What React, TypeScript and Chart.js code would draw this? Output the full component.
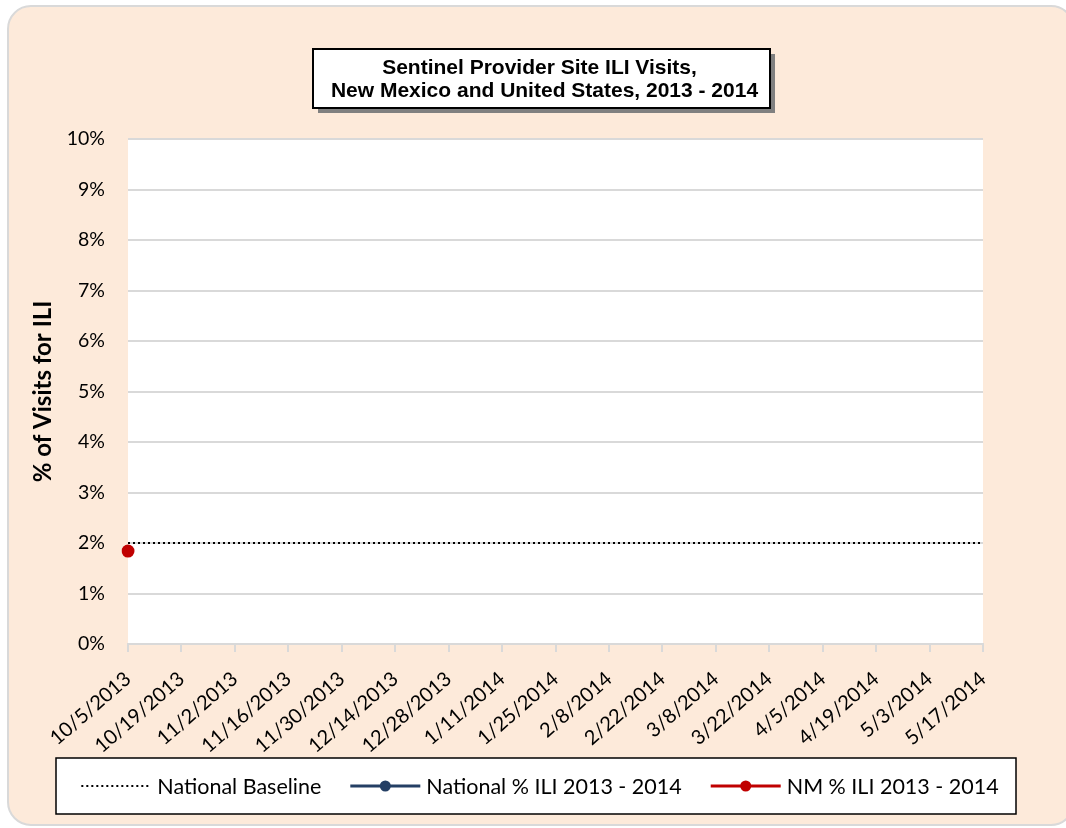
import { useEffect, useRef } from 'react';
import { Chart, registerables } from 'chart.js';

Chart.register(...registerables);

const weekLabels = [
  '10/5/2013', '10/12/2013', '10/19/2013', '10/26/2013', '11/2/2013', '11/9/2013',
  '11/16/2013', '11/23/2013', '11/30/2013', '12/7/2013', '12/14/2013', '12/21/2013',
  '12/28/2013', '1/4/2014', '1/11/2014', '1/18/2014', '1/25/2014', '2/1/2014',
  '2/8/2014', '2/15/2014', '2/22/2014', '3/1/2014', '3/8/2014', '3/15/2014',
  '3/22/2014', '3/29/2014', '4/5/2014', '4/12/2014', '4/19/2014', '4/26/2014',
  '5/3/2014', '5/10/2014', '5/17/2014',
];

const baselineValues = [
  2.0, 2.0, 2.0, 2.0, 2.0, 2.0, 2.0, 2.0, 2.0, 2.0, 2.0,
  2.0, 2.0, 2.0, 2.0, 2.0, 2.0, 2.0, 2.0, 2.0, 2.0, 2.0,
  2.0, 2.0, 2.0, 2.0, 2.0, 2.0, 2.0, 2.0, 2.0, 2.0, 2.0,
];

const nationalValues: (number | null)[] = [];

const nmValues: (number | null)[] = [1.84];

const titleLines = ['Sentinel Provider Site ILI Visits,', 'New Mexico and United States, 2013 - 2014'];
const yAxisTitle = '% of Visits for ILI';
const seriesNames = ['National Baseline', 'National % ILI 2013 - 2014', 'NM % ILI 2013 - 2014'];

const PEACH = '#FDEADA';
const NAVY = '#243F64';
const RED = '#C00000';
const GRID = '#D9D9D9';
const FONT = 'Lato, "Open Sans", sans-serif';

const areaBgPlugin = {
  id: 'areaBg',
  beforeDraw(chart: any) {
    const { ctx, chartArea } = chart;
    ctx.save();
    ctx.fillStyle = '#ffffff';
    ctx.fillRect(chartArea.left, chartArea.top, chartArea.right - chartArea.left, chartArea.bottom - chartArea.top);
    ctx.restore();
  },
};

const titleBoxPlugin = {
  id: 'titleBox',
  afterDraw(chart: any) {
    const { ctx } = chart;
    const x = 313, y = 49, w = 457, h = 59;
    ctx.save();
    ctx.fillStyle = '#808080';
    ctx.fillRect(x + 5, y + 5, w, h);
    ctx.fillStyle = '#ffffff';
    ctx.fillRect(x, y, w, h);
    ctx.strokeStyle = '#000';
    ctx.lineWidth = 2;
    ctx.strokeRect(x, y, w, h);
    ctx.fillStyle = '#000';
    ctx.font = 'bold 21px "Liberation Sans", Arial, sans-serif';
    ctx.textAlign = 'center';
    ctx.textBaseline = 'middle';
    ctx.fillText(titleLines[0], x + w / 2 - 2, 68);
    ctx.fillText(titleLines[1], x + w / 2 + 3, 91);
    ctx.restore();
  },
};

const legendBoxPlugin = {
  id: 'legendBox',
  afterDraw(chart: any) {
    const { ctx } = chart;
    const bx = 56, by = 758, bw = 960, bh = 56;
    ctx.save();
    ctx.fillStyle = '#ffffff';
    ctx.fillRect(bx, by, bw, bh);
    ctx.strokeStyle = '#000';
    ctx.lineWidth = 1.5;
    ctx.strokeRect(bx, by, bw, bh);
    ctx.font = '21.5px ' + FONT;
    ctx.textBaseline = 'middle';
    ctx.textAlign = 'left';
    const lineLen = 70, gap = 6, itemGap = 29;
    const datasets = chart.data.datasets;
    const widths = datasets.map((d: any) => lineLen + gap + ctx.measureText(d.label).width);
    const total = widths.reduce((a: number, b: number) => a + b, 0) + itemGap * (datasets.length - 1);
    let x = 540 - total / 2;
    const cy = by + bh / 2;
    datasets.forEach((d: any, i: number) => {
      ctx.save();
      ctx.strokeStyle = d.borderColor;
      ctx.lineWidth = d.borderWidth;
      ctx.setLineDash(d.borderDash || []);
      ctx.beginPath();
      ctx.moveTo(x, cy);
      ctx.lineTo(x + lineLen, cy);
      ctx.stroke();
      ctx.restore();
      if (d.pointRadius > 0) {
        ctx.fillStyle = d.backgroundColor;
        ctx.beginPath();
        ctx.arc(x + lineLen / 2, cy, 5.5, 0, Math.PI * 2);
        ctx.fill();
      }
      ctx.fillStyle = '#000';
      ctx.fillText(d.label, x + lineLen + gap, cy + 1);
      x += widths[i] + itemGap;
    });
    ctx.restore();
  },
};

export default function App() {
  const ref = useRef<HTMLCanvasElement>(null);
  useEffect(() => {
    const canvas = ref.current!;
    const chart = new Chart(canvas, {
      type: 'line',
      data: {
        labels: weekLabels,
        datasets: [
          {
            label: seriesNames[0],
            data: baselineValues,
            borderColor: '#000000',
            backgroundColor: '#000000',
            borderWidth: 2.2,
            borderDash: [2, 3],
            pointRadius: 0,
            fill: false,
          },
          {
            label: seriesNames[1],
            data: nationalValues,
            borderColor: NAVY,
            backgroundColor: NAVY,
            borderWidth: 3,
            pointRadius: 6,
            fill: false,
          },
          {
            label: seriesNames[2],
            data: nmValues,
            borderColor: RED,
            backgroundColor: RED,
            borderWidth: 3,
            pointRadius: 6.5,
            pointBorderWidth: 0,
            fill: false,
          },
        ],
      } as any,
      options: {
        responsive: false,
        animation: false,
        layout: { padding: { left: 0, top: 139, right: 83, bottom: 0 } },
        plugins: {
          legend: { display: false },
          title: { display: false },
          tooltip: { enabled: false },
        },
        scales: {
          x: {
            type: 'category',
            offset: false,
            grid: {
              drawOnChartArea: false,
              drawTicks: true,
              tickLength: 8,
              lineWidth: 2,
              color: (c: any) => (c.index % 2 === 0 ? GRID : 'rgba(0,0,0,0)'),
            },
            border: { color: GRID, width: 2 },
            ticks: {
              autoSkip: false,
              maxRotation: 41,
              minRotation: 41,
              padding: 15,
              color: '#000',
              font: { family: FONT, size: 20 },
              callback: (_v: any, i: number) => (i % 2 === 0 ? weekLabels[i] : ''),
            },
            afterFit: (s: any) => {
              s.height = 184;
            },
          },
          y: {
            min: 0,
            max: 10,
            ticks: {
              stepSize: 1,
              padding: 23,
              color: '#000',
              font: { family: FONT, size: 19.5 },
              callback: (v: any) => v + '%',
            },
            grid: { color: GRID, lineWidth: 2, drawTicks: false },
            border: { display: false },
            title: {
              display: true,
              text: yAxisTitle,
              color: '#000',
              font: { family: FONT, size: 24, weight: 'bold' },
              padding: { top: 29, bottom: 0 },
            },
            afterFit: (s: any) => {
              s.width = 128;
            },
          },
        },
      } as any,
      plugins: [areaBgPlugin, titleBoxPlugin, legendBoxPlugin],
    });
    return () => chart.destroy();
  }, []);

  return (
    <div style={{ position: 'fixed', left: 0, top: 0, width: 1066, height: 828, overflow: 'hidden' }}>
      <div
        style={{
          position: 'absolute',
          left: 7,
          top: 5,
          width: 1068,
          height: 821,
          boxSizing: 'border-box',
          border: '2px solid #D9D9D9',
          borderRadius: 24,
          background: PEACH,
        }}
      />
      <canvas
        ref={ref}
        width={1066}
        height={828}
        style={{ position: 'absolute', left: 0, top: 0, width: 1066, height: 828, display: 'block' }}
      />
    </div>
  );
}
